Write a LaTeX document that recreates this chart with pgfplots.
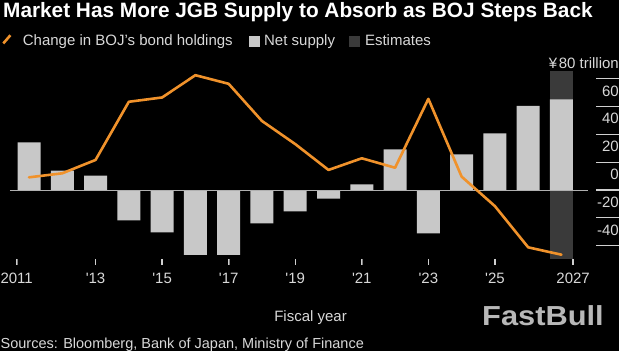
\documentclass[border=0pt]{standalone}
\usepackage{fontspec}
\setmainfont{Liberation Sans}
\usepackage{pgfplots}
\pgfplotsset{compat=1.18}
\definecolor{barc}{HTML}{C8C8C8}
\definecolor{estc}{HTML}{3A3A3A}
\definecolor{linec}{HTML}{F0922B}
\definecolor{txt}{HTML}{D8D8D8}
\definecolor{axc}{HTML}{B0B0B0}
\definecolor{tkc}{HTML}{D0D0D0}
\definecolor{wm}{HTML}{B8B8B8}
\newcommand{\lbl}{\fontsize{15}{18}\selectfont}

\pgfplotstableread{
year supply
2011 34.3
2012 13.9
2013 10.3
2014 -21.8
2015 -30.4
2016 -46.7
2017 -46.7
2018 -24.0
2019 -15.3
2020 -6.2
2021 4.1
2022 29.2
2023 -31.2
2024 25.6
2025 40.7
2026 60.4
2027 65.2
}\supplytable

\pgfplotstableread{
year boj
2011 9.1
2012 12.0
2013 21.6
2014 63.4
2015 66.5
2016 82.5
2017 76.3
2018 49.6
2019 33.0
2020 14.4
2021 22.8
2022 16.0
2023 65.5
2024 9.6
2025 -11.6
2026 -41.2
2027 -46.5
}\bojtable

\begin{document}
\begin{tikzpicture}[x=1pt,y=1pt]
\fill[black] (0,0) rectangle (619,351);
\useasboundingbox (0,0) rectangle (619,351);
\node[anchor=base west, inner sep=0pt, text=white, font=\fontsize{20.8}{24}\selectfont\bfseries] at (3,333) {Market Has More JGB Supply to Absorb as BOJ Steps Back};

\begin{axis}[
  at={(10pt,92pt)}, anchor=south west,
  scale only axis, width=578pt, height=188pt,
  xmin=2010.429, xmax=2027.797,
  ymin=-49.58, ymax=85.51,
  axis line style={draw=none},
  xtick={2010.63,2013,2015,2017,2019,2021,2023,2025,2027.35},
  xticklabels={2011,\textquotesingle13,\textquotesingle15,\textquotesingle17,\textquotesingle19,\textquotesingle21,\textquotesingle23,\textquotesingle25,2027},
  xtick pos=bottom,
  ytick=\empty,
  major tick length=6pt, tick align=outside,
  xticklabel style={font=\lbl, text=txt, inner sep=0pt, anchor=north, yshift=-8pt},
  xlabel={Fiscal year},
  xlabel style={font=\lbl, text=txt, inner sep=0pt, anchor=base, at={(axis description cs:0.52,-0.3351)}},
  legend columns=-1,
  legend cell align=left,
  legend style={draw=none, fill=none, inner sep=0pt, outer sep=0pt, column sep=0pt,
    at={(-0.01384,1.159)}, anchor=west, font=\lbl, text=txt,
    nodes={inner sep=0pt, text height=11pt, text depth=3.2pt}},
  clip=false,
]
\addlegendimage{legend image code/.code={\path (0pt,-5pt) rectangle (19.7pt,5pt); \draw[linec, line width=2.6pt] (0.3pt,-2.2pt) -- (7.4pt,6pt);}}
\addlegendentry{Change in BOJ’s bond holdings}
\addlegendimage{legend image code/.code={\path (0pt,-5pt) rectangle (31pt,5pt); \fill[barc] (16.5pt,-4.8pt) rectangle (26.1pt,4.8pt);}}
\addlegendentry{Net supply}
\addlegendimage{legend image code/.code={\path (0pt,-5pt) rectangle (29.6pt,5pt); \fill[estc] (14pt,-4.8pt) rectangle (23.6pt,4.8pt);}}
\addlegendentry{Estimates}

\addplot[ybar, bar width=23pt, bar shift=0pt, fill=estc, draw=none, forget plot] coordinates {(2027,85.51)};
\addplot[ybar, bar width=23pt, bar shift=0pt, fill=estc, draw=none, forget plot] coordinates {(2027,-49.58)};
\addplot[ybar, bar width=23pt, bar shift=0pt, fill=barc, draw=none, forget plot] table[x=year, y=supply] {\supplytable};
\draw[axc, line width=1pt] (axis cs:2010.429,0) -- (axis cs:2027.797,0);
\addplot[linec, line width=2.6pt, line join=round, line cap=round, mark=none, forget plot] table[x=year, y=boj] {\bojtable};
% tick marks
\pgfplotsinvokeforeach{2010.63,2013,2015,2017,2019,2021,2023,2025,2027.35}{
  \draw[tkc, line width=1.3pt] (axis cs:#1,-49.58) -- ++(0pt,-6pt);
}
\pgfplotsinvokeforeach{-40,-20,0,20,40,60,80}{
  \draw[tkc, line width=1.2pt] (axis cs:2027.797,#1) ++(8pt,0pt) -- ++(23pt,0pt);
}
\end{axis}

% y tick labels (strip right of the plot)
\begin{axis}[
  at={(596pt,92pt)}, anchor=south west,
  scale only axis, width=23pt, height=188pt,
  xmin=0, xmax=1, ymin=-49.58, ymax=85.51,
  axis line style={draw=none},
  xtick=\empty,
  ytick={-40,-20,0,20,40,60,80},
  yticklabels={-40,-20,0,20,40,60,¥\kern1.5pt80 trillion},
  yticklabel pos=right,
  major tick length=0pt,
  yticklabel style={font=\lbl, text=txt, inner sep=0pt, anchor=south east, yshift=10pt},
]
\addplot[draw=none] coordinates {(0.5,0)};
\end{axis}

\node[anchor=base west, inner sep=0pt, text=txt, font=\fontsize{14.5}{17}\selectfont] at (0.5,2.5) {Sources: Bloomberg, Bank of Japan, Ministry of Finance};
\node[anchor=base west, inner sep=0pt, text=wm, font=\fontsize{27.5}{30}\selectfont\bfseries] at (482,25) {\scalebox{1.12}[1]{FastBull}};
\end{tikzpicture}
\end{document}
